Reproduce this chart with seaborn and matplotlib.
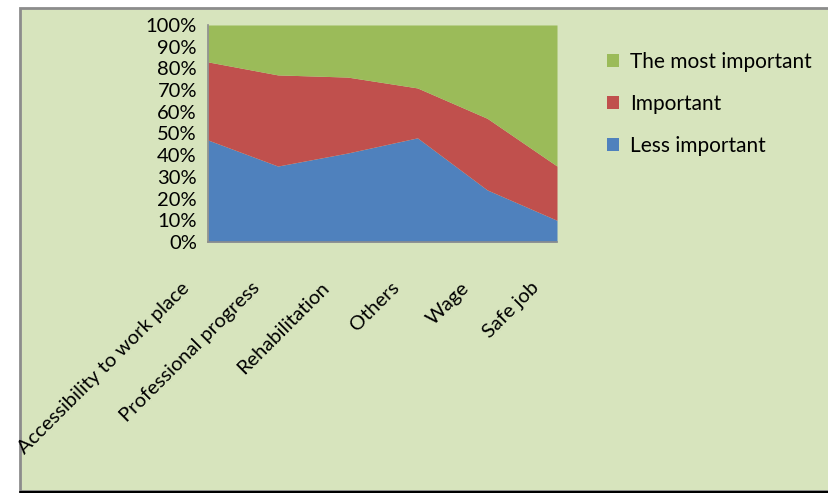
import numpy as np
import seaborn as sns
import matplotlib.pyplot as plt
from matplotlib.patches import Rectangle, Patch
from matplotlib.transforms import ScaledTranslation

# data (percent of answers)
categories = ["Accessibility to work place", "Professional progress", "Rehabilitation",
              "Others", "Wage", "Safe job"]
less_important = [47, 35, 41, 48, 24, 10]
important = [36, 42, 35, 23, 33, 25]
most_important = [17, 23, 24, 29, 43, 65]
series_names = ["Less important", "Important", "The most important"]

sns.set_theme(style="white")
plt.rcParams["font.family"] = ["Lato", "DejaVu Sans"]
colors = sns.color_palette(["#4F81BD", "#C0504D", "#9BBB59"])
bg = "#D7E4BD"

W, H = 829, 493
fig = plt.figure(figsize=(W / 100, H / 100), dpi=100, facecolor="white")

# chart area frame
fig.patches.append(Rectangle((20 / W, 2 / H), 1.1, (491 - 8) / H,
                             transform=fig.transFigure, facecolor=bg,
                             edgecolor="#8C8C8C", linewidth=2, zorder=-5))
fig.add_artist(plt.Line2D([20 / W, 1], [0.8 / H, 0.8 / H], color="black", lw=1.5, zorder=-4))

ax = fig.add_axes([208 / W, (H - 242) / H, (557 - 208) / W, (242 - 25) / H])
ax.set_facecolor("none")
ax.set_zorder(2)

x = np.arange(len(categories))
ax.stackplot(x, less_important, important, most_important, colors=colors,
             labels=series_names, linewidth=0)

ax.set_xlim(0, len(categories) - 1)
ax.set_ylim(0, 100)
ax.set_yticks(range(0, 101, 10))
ax.set_yticklabels([f"{v}%" for v in range(0, 101, 10)], fontsize=14.5, color="black")
ax.set_xticks(x)
ax.set_xticklabels(categories, fontsize=14.5, color="black", rotation=45,
                   ha="right", va="top", rotation_mode="anchor")

for s in ["top", "right"]:
    ax.spines[s].set_visible(False)
for s in ["left", "bottom"]:
    ax.spines[s].set_color("#8C8C8C")
    ax.spines[s].set_linewidth(1.2)

ax.tick_params(axis="both", direction="out", length=5, width=1.2, color="#8C8C8C")
ax.tick_params(axis="y", pad=3)
ax.tick_params(axis="x", pad=0)

# shift category labels down/left like the original
off = ScaledTranslation(-27 / 100, -30 / 100, fig.dpi_scale_trans)
for lbl in ax.get_xticklabels():
    lbl.set_transform(lbl.get_transform() + off)

handles = [Patch(facecolor=colors[i], edgecolor="none") for i in [2, 1, 0]]
fig.legend(handles, [series_names[i] for i in [2, 1, 0]], loc="upper left",
           bbox_to_anchor=(588 / W, 1 - 33 / H), frameon=False, fontsize=15,
           labelcolor="black", handlelength=0.6, handleheight=0.6,
           handletextpad=0.5, labelspacing=1.05)

fig.savefig("out.png", dpi=100, facecolor="white")
